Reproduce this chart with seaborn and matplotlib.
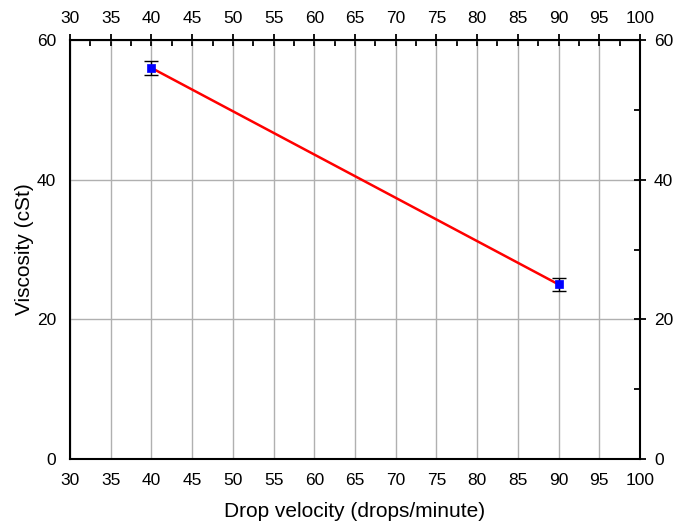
import pandas as pd
import seaborn as sns
import matplotlib.pyplot as plt
from matplotlib.ticker import MultipleLocator

# data
drop_velocity = [40, 90]
viscosity = [56, 25]
viscosity_err = [1.0, 0.9]

df = pd.DataFrame({'drop_velocity': drop_velocity, 'viscosity': viscosity})

sns.set_style('white')
plt.rcParams['font.family'] = ['Liberation Sans', 'DejaVu Sans']
plt.rcParams['text.color'] = 'black'
plt.rcParams['axes.labelcolor'] = 'black'
plt.rcParams['xtick.color'] = 'black'
plt.rcParams['ytick.color'] = 'black'

fig = plt.figure(figsize=(6.75, 5.3), dpi=100)
ax = fig.add_axes([70 / 675, 1 - 459 / 530, 570 / 675, 419 / 530])

sns.lineplot(data=df, x='drop_velocity', y='viscosity', color='red', linewidth=1.8, ax=ax, zorder=3)
ax.errorbar(drop_velocity, viscosity, yerr=viscosity_err, fmt='none', ecolor='black',
            elinewidth=1, capsize=5, capthick=1, zorder=4)
sns.scatterplot(data=df, x='drop_velocity', y='viscosity', marker='s', color='blue',
                s=32, edgecolor='blue', linewidth=0.5, ax=ax, zorder=5)

ax.set_xlim(30, 100)
ax.set_ylim(0, 60)
ax.xaxis.set_major_locator(MultipleLocator(5))
ax.xaxis.set_minor_locator(MultipleLocator(2.5))
ax.yaxis.set_major_locator(MultipleLocator(20))
ax.yaxis.set_minor_locator(MultipleLocator(10))

ax.grid(True, which='major', color='#b0b0b0', linewidth=1)
ax.set_axisbelow(True)

for s in ax.spines.values():
    s.set_color('black')
    s.set_linewidth(1.5)

ax.tick_params(which='major', direction='inout', length=8, width=1.3, labelsize=12.5, pad=6,
               top=True, right=True, labeltop=True, labelright=True, color='black', labelcolor='black')
ax.tick_params(which='minor', direction='in', length=4, width=1.3,
               top=True, right=True, color='black')

ax.set_xlabel('Drop velocity (drops/minute)', fontsize=15, labelpad=10)
ax.set_ylabel('Viscosity (cSt)', fontsize=15, labelpad=2)

plt.savefig('out.png', dpi=100)
